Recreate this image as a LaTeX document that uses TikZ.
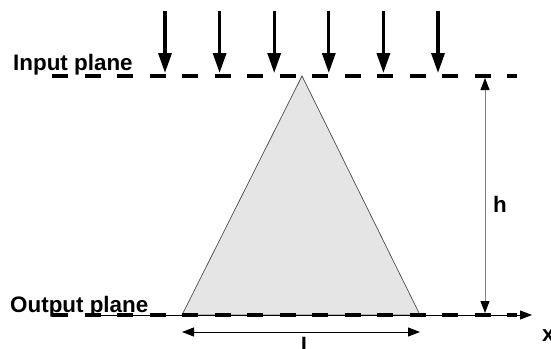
\documentclass[tikz,border=0pt]{standalone}
\usepackage{fontspec}
\setmainfont{Liberation Sans}
\usetikzlibrary{arrows.meta}
\tikzset{
  planeline/.style={line width=3.2pt, dash pattern=on 16pt off 16.5pt},
  rayarrow/.style={line width=3.3pt, -{Triangle[length=20pt,width=13pt]}},
  dimarrow/.style={line width=1pt, {Triangle[length=12pt,width=9pt,color=black]}-{Triangle[length=12pt,width=9pt,color=black]}},
  planelabel/.style={font=\fontsize{22.4}{26}\selectfont\bfseries, inner sep=0pt}
}

\begin{document}
\begin{tikzpicture}[x=1pt,y=-1pt]
    \useasboundingbox (0,0) rectangle (551,348);

    % Triangular cross-section between the planes
    \coordinate (apex) at (302,76);
    \coordinate (baseL) at (182,315);
    \coordinate (baseR) at (420,315);
    \draw[fill=gray!20, draw=black!70, line width=0.7pt] (apex) -- (baseL) -- (baseR) -- cycle;

    % x axis and the two planes
    \coordinate (axisL) at (86,315);
    \coordinate (axisR) at (532,315);
    \draw[line width=1pt, -{Triangle[length=12pt,width=9pt]}] (axisL) -- (axisR);
    \coordinate (inL) at (52,76);
    \coordinate (inR) at (517,76);
    \coordinate (outL) at (52,315);
    \coordinate (outR) at (517,315);
    \draw[planeline] (inL) -- (inR);
    \draw[planeline] (outL) -- (outR);

    % Incoming rays
    \foreach \i in {0,...,5} {
        \coordinate (top\i) at (165+54.6*\i,11);
        \coordinate (tip\i) at (165+54.6*\i,73);
        \draw[rayarrow] (top\i) -- (tip\i);
    }

    % Height and base width
    \coordinate (hTop) at (485,78);
    \coordinate (hBot) at (485,313);
    \draw[dimarrow, draw=gray] (hTop) -- (hBot);
    \coordinate (lL) at (182,332);
    \coordinate (lR) at (420,332);
    \draw[dimarrow] (lL) -- (lR);

    % Labels
    \node[planelabel, anchor=base west] (inlabel) at (13,70) {Input plane};
    \node[planelabel, anchor=base west] (outlabel) at (10,312) {Output plane};
    \node[planelabel, anchor=base west] (hlabel) at (493,212) {h};
    \node[planelabel, anchor=base west] (xlabel) at (542,341) {x};
    \node[planelabel, anchor=base] (llabel) at (304,353) {l};
\end{tikzpicture}
\end{document}
